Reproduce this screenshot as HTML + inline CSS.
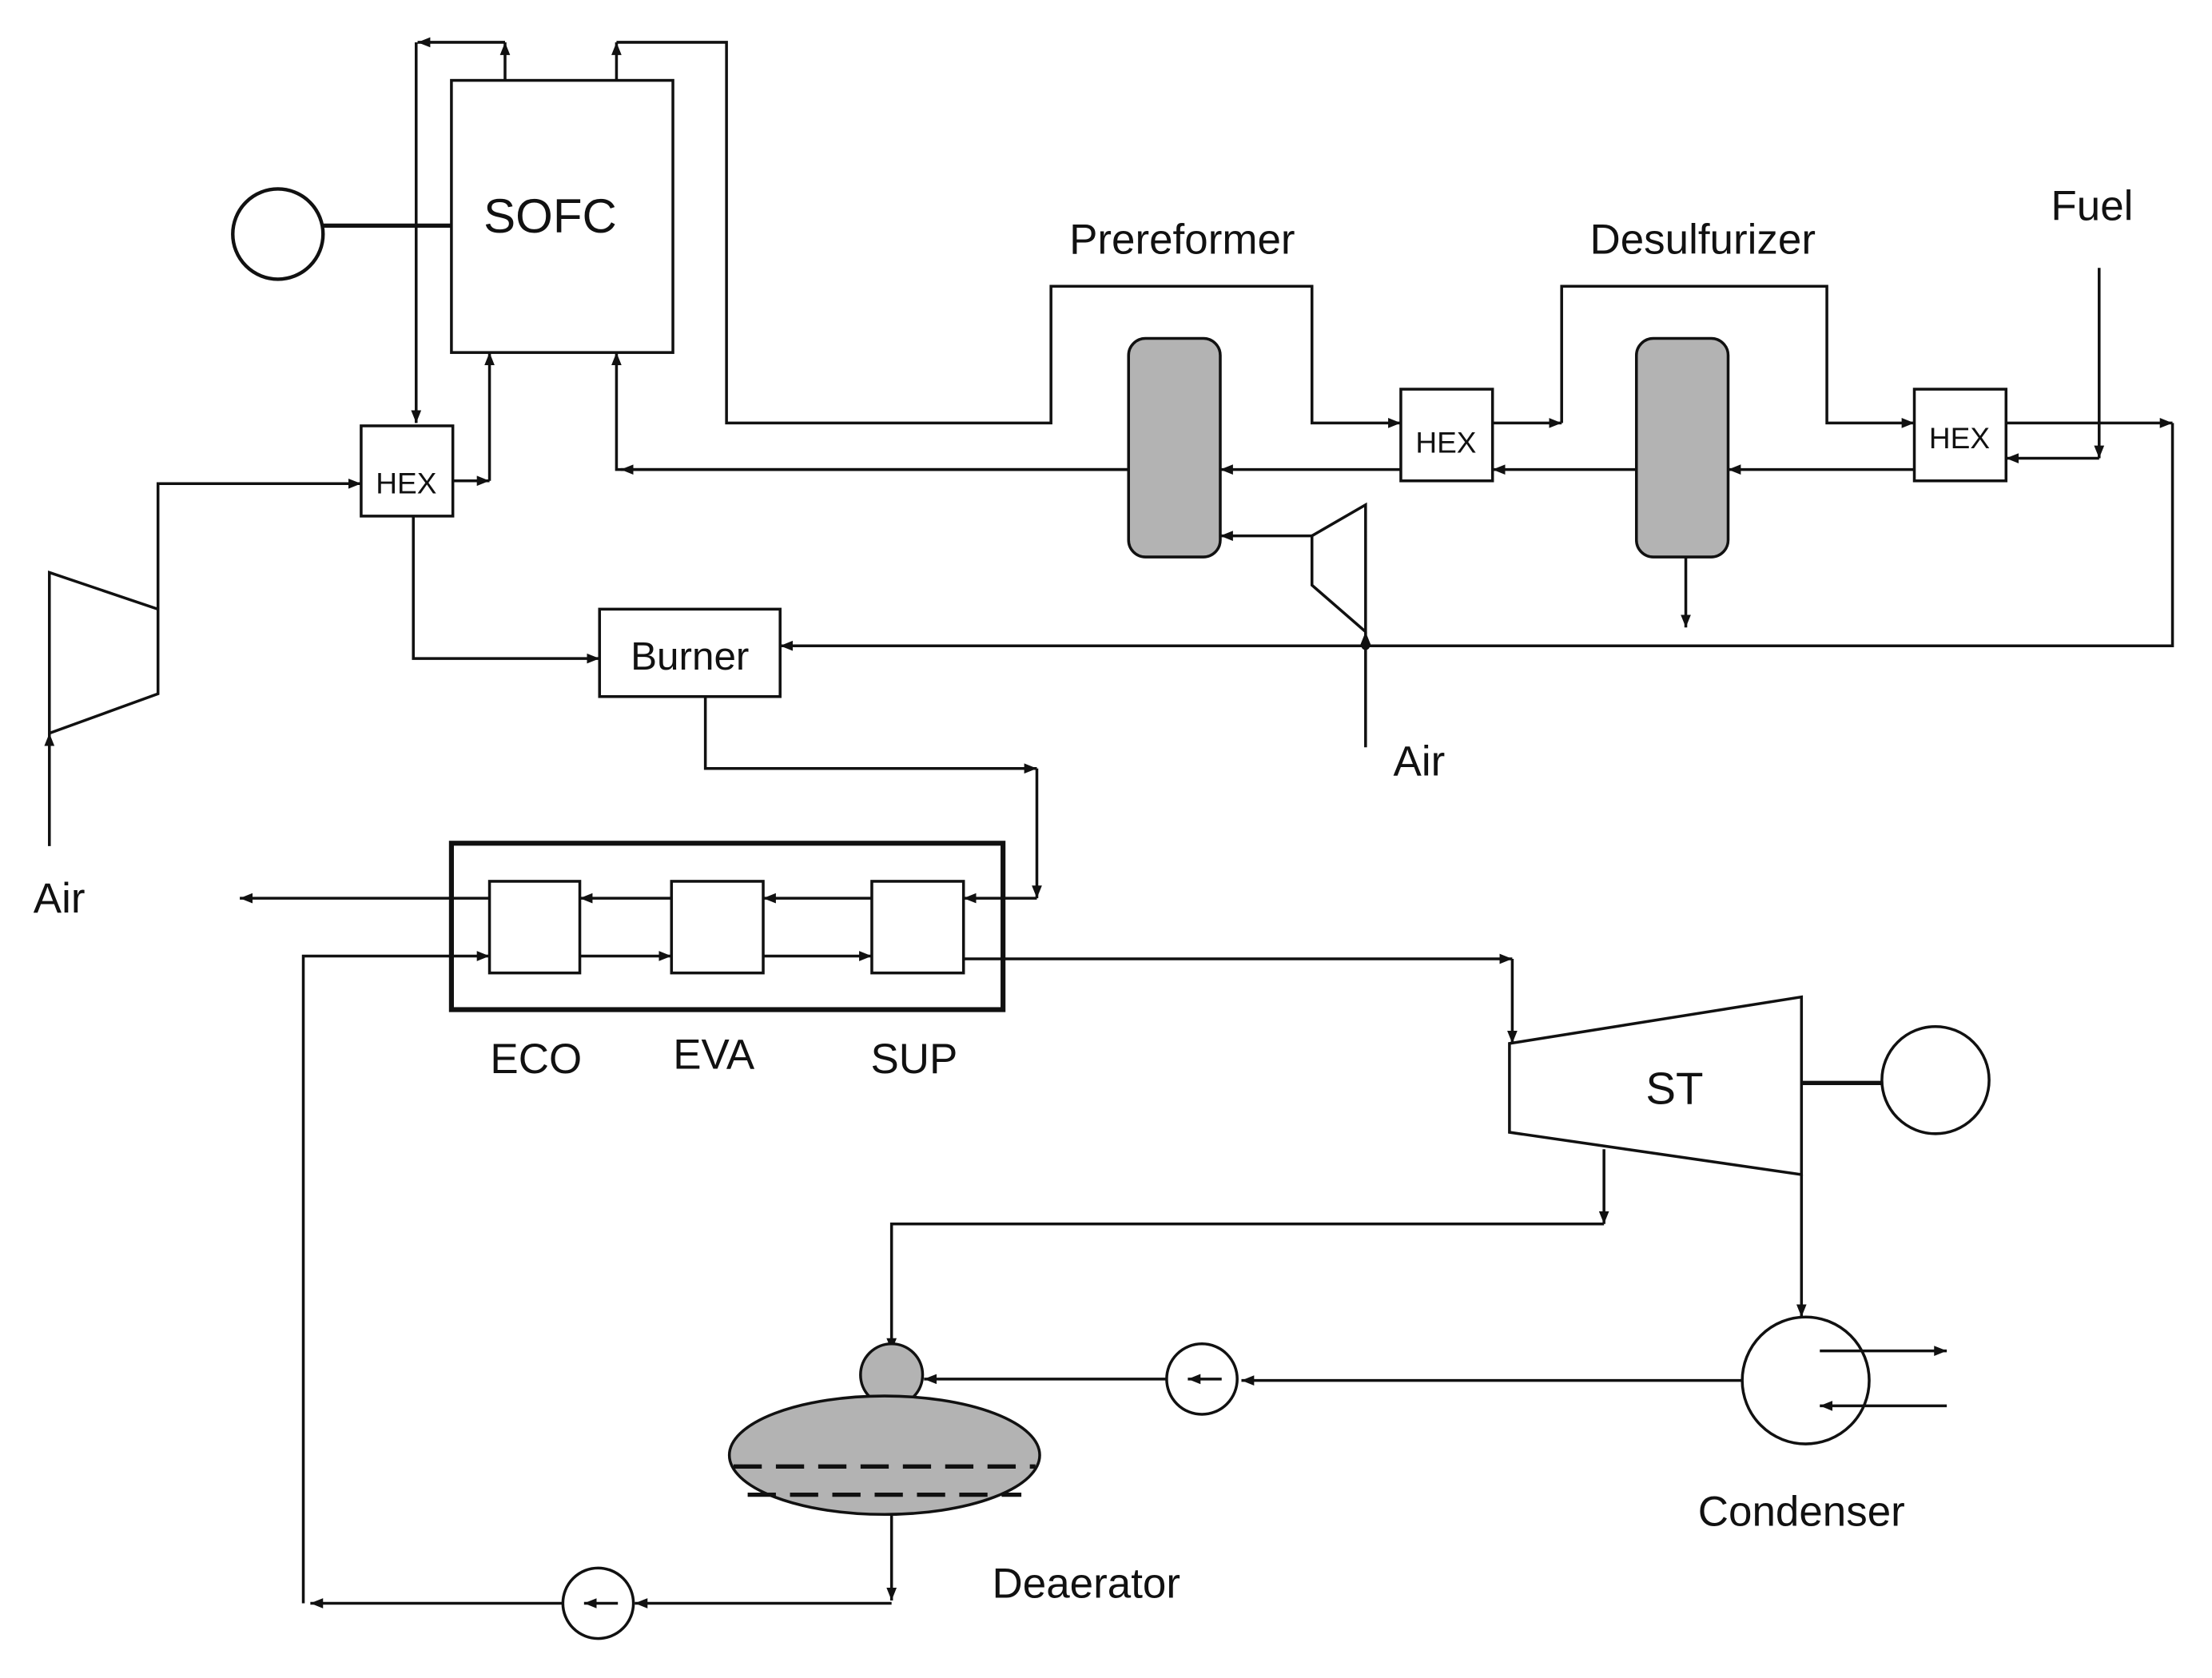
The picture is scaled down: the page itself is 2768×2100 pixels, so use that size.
<!DOCTYPE html>
<html><head><meta charset="utf-8"><style>
html,body{margin:0;padding:0;background:#fff;}
svg{display:block;}
text{font-family:"Liberation Sans",sans-serif;fill:#111;}
</style></head><body>
<svg width="2768" height="2100" viewBox="0 0 1568 1190" preserveAspectRatio="none" xmlns="http://www.w3.org/2000/svg">
<defs>
<marker id="a" viewBox="0 0 10 10" refX="10" refY="5" markerWidth="9" markerHeight="9" orient="auto" markerUnits="userSpaceOnUse"><path d="M0,1 L10,5 L0,9 z" fill="#111"/></marker>
</defs>
<g stroke="#111" stroke-width="2" fill="none">
<rect x="320" y="57" width="157" height="193" fill="#fff"/>
<circle cx="197" cy="166" r="32" stroke-width="2.5"/>
<line x1="229" y1="160" x2="320" y2="160" stroke-width="3"/>
<polyline points="358,57 358,30" marker-end="url(#a)"/>
<polyline points="358,30 296,30" marker-end="url(#a)"/>
<polyline points="295,30 295,300" marker-end="url(#a)"/>
<polyline points="437,57 437,30" marker-end="url(#a)"/>
<polyline points="437,30 515,30 515,300 745,300 745,203 930,203 930,300 993,300" marker-end="url(#a)"/>
<rect x="256" y="302" width="65" height="64" fill="#fff"/>
<polygon points="35,406 112,432 112,492 35,520"/>
<polyline points="35,600 35,520" marker-end="url(#a)"/>
<polyline points="112,432 112,343 256,343" marker-end="url(#a)"/>
<polyline points="321,341 347,341" marker-end="url(#a)"/>
<polyline points="347,341 347,250" marker-end="url(#a)"/>
<polyline points="293,366 293,467 425,467" marker-end="url(#a)"/>
<rect x="425" y="432" width="128" height="62" fill="#fff"/>
<polyline points="800,333 437,333 437,250" marker-end="url(#a)"/>
<polyline points="800,333 440,333" marker-end="url(#a)"/>
<rect x="800" y="240" width="65" height="155" rx="12" fill="#b3b3b3"/>
<polyline points="993,333 865,333" marker-end="url(#a)"/>
<polygon points="930,380 968,358 968,448 930,415"/>
<polyline points="930,380 865,380" marker-end="url(#a)"/>
<polyline points="968,530 968,448" marker-end="url(#a)"/>
<polyline points="1540,300 1540,458 553,458" marker-end="url(#a)"/>
<rect x="993" y="276" width="65" height="65" fill="#fff"/>
<polyline points="1058,300 1107,300" marker-end="url(#a)"/>
<polyline points="1107,300 1107,203 1295,203 1295,300 1357,300" marker-end="url(#a)"/>
<polyline points="1160,333 1058,333" marker-end="url(#a)"/>
<rect x="1160" y="240" width="65" height="155" rx="12" fill="#b3b3b3"/>
<polyline points="1195,395 1195,445" marker-end="url(#a)"/>
<polyline points="1357,333 1225,333" marker-end="url(#a)"/>
<rect x="1357" y="276" width="65" height="65" fill="#fff"/>
<polyline points="1422,300 1540,300" marker-end="url(#a)"/>
<polyline points="1488,190 1488,325" marker-end="url(#a)"/>
<polyline points="1488,325 1422,325" marker-end="url(#a)"/>
<polyline points="500,494 500,545 735,545" marker-end="url(#a)"/>
<polyline points="735,545 735,637" marker-end="url(#a)"/>
<rect x="320" y="598" width="391" height="118" stroke-width="3.5"/>
<rect x="347" y="625" width="64" height="65"/>
<rect x="476" y="625" width="65" height="65"/>
<rect x="618" y="625" width="65" height="65"/>
<polyline points="735,637 683,637" marker-end="url(#a)"/>
<polyline points="618,637 541,637" marker-end="url(#a)"/>
<polyline points="476,637 411,637" marker-end="url(#a)"/>
<polyline points="347,637 170,637" marker-end="url(#a)"/>
<polyline points="215,1137 215,678 347,678" marker-end="url(#a)"/>
<polyline points="411,678 476,678" marker-end="url(#a)"/>
<polyline points="541,678 618,678" marker-end="url(#a)"/>
<polyline points="683,680 1072,680" marker-end="url(#a)"/>
<polyline points="1072,680 1072,740" marker-end="url(#a)"/>
<polygon points="1070,740 1277,707 1277,833 1070,803"/>
<line x1="1277" y1="768" x2="1334" y2="768" stroke-width="3"/>
<circle cx="1372" cy="766" r="38"/>
<polyline points="1137,815 1137,868" marker-end="url(#a)"/>
<polyline points="1137,868 632,868 632,958" marker-end="url(#a)"/>
<polyline points="1277,833 1277,934" marker-end="url(#a)"/>
<circle cx="1280" cy="979" r="45"/>
<polyline points="1290,958 1380,958" marker-end="url(#a)"/>
<polyline points="1380,997 1290,997" marker-end="url(#a)"/>
<polyline points="1235,979 880,979" marker-end="url(#a)"/>
<circle cx="852" cy="978" r="25"/>
<polyline points="866,978 842,978" marker-end="url(#a)"/>
<polyline points="827,978 655,978" marker-end="url(#a)"/>
<circle cx="632" cy="975" r="22" fill="#b3b3b3"/>
<ellipse cx="627" cy="1032" rx="110" ry="42" fill="#b3b3b3"/>
<line x1="520" y1="1040" x2="734" y2="1040" stroke-dasharray="20,10" stroke-width="3"/>
<line x1="530" y1="1060" x2="724" y2="1060" stroke-dasharray="20,10" stroke-width="3"/>
<polyline points="632,1074 632,1135" marker-end="url(#a)"/>
<polyline points="632,1137 450,1137" marker-end="url(#a)"/>
<circle cx="424" cy="1137" r="25"/>
<polyline points="438,1137 414,1137" marker-end="url(#a)"/>
<polyline points="399,1137 220,1137" marker-end="url(#a)"/>
</g>
<circle cx="968" cy="458" r="3" fill="#111"/>
<text x="390" y="165" font-size="34" text-anchor="middle">SOFC</text>
<text x="288" y="350" font-size="21" text-anchor="middle">HEX</text>
<text x="1025" y="321" font-size="21" text-anchor="middle">HEX</text>
<text x="1389" y="318" font-size="21" text-anchor="middle">HEX</text>
<text x="489" y="475" font-size="28" text-anchor="middle">Burner</text>
<text x="838" y="180" font-size="30" text-anchor="middle">Prereformer</text>
<text x="1207" y="180" font-size="30" text-anchor="middle">Desulfurizer</text>
<text x="1483" y="156" font-size="30" text-anchor="middle">Fuel</text>
<text x="1006" y="550" font-size="30" text-anchor="middle">Air</text>
<text x="42" y="647" font-size="30" text-anchor="middle">Air</text>
<text x="380" y="761" font-size="30" text-anchor="middle">ECO</text>
<text x="506" y="758" font-size="30" text-anchor="middle">EVA</text>
<text x="648" y="761" font-size="30" text-anchor="middle">SUP</text>
<text x="1187" y="783" font-size="32" text-anchor="middle">ST</text>
<text x="1277" y="1082" font-size="30" text-anchor="middle">Condenser</text>
<text x="770" y="1133" font-size="30" text-anchor="middle">Deaerator</text>
</svg>
</body></html>
